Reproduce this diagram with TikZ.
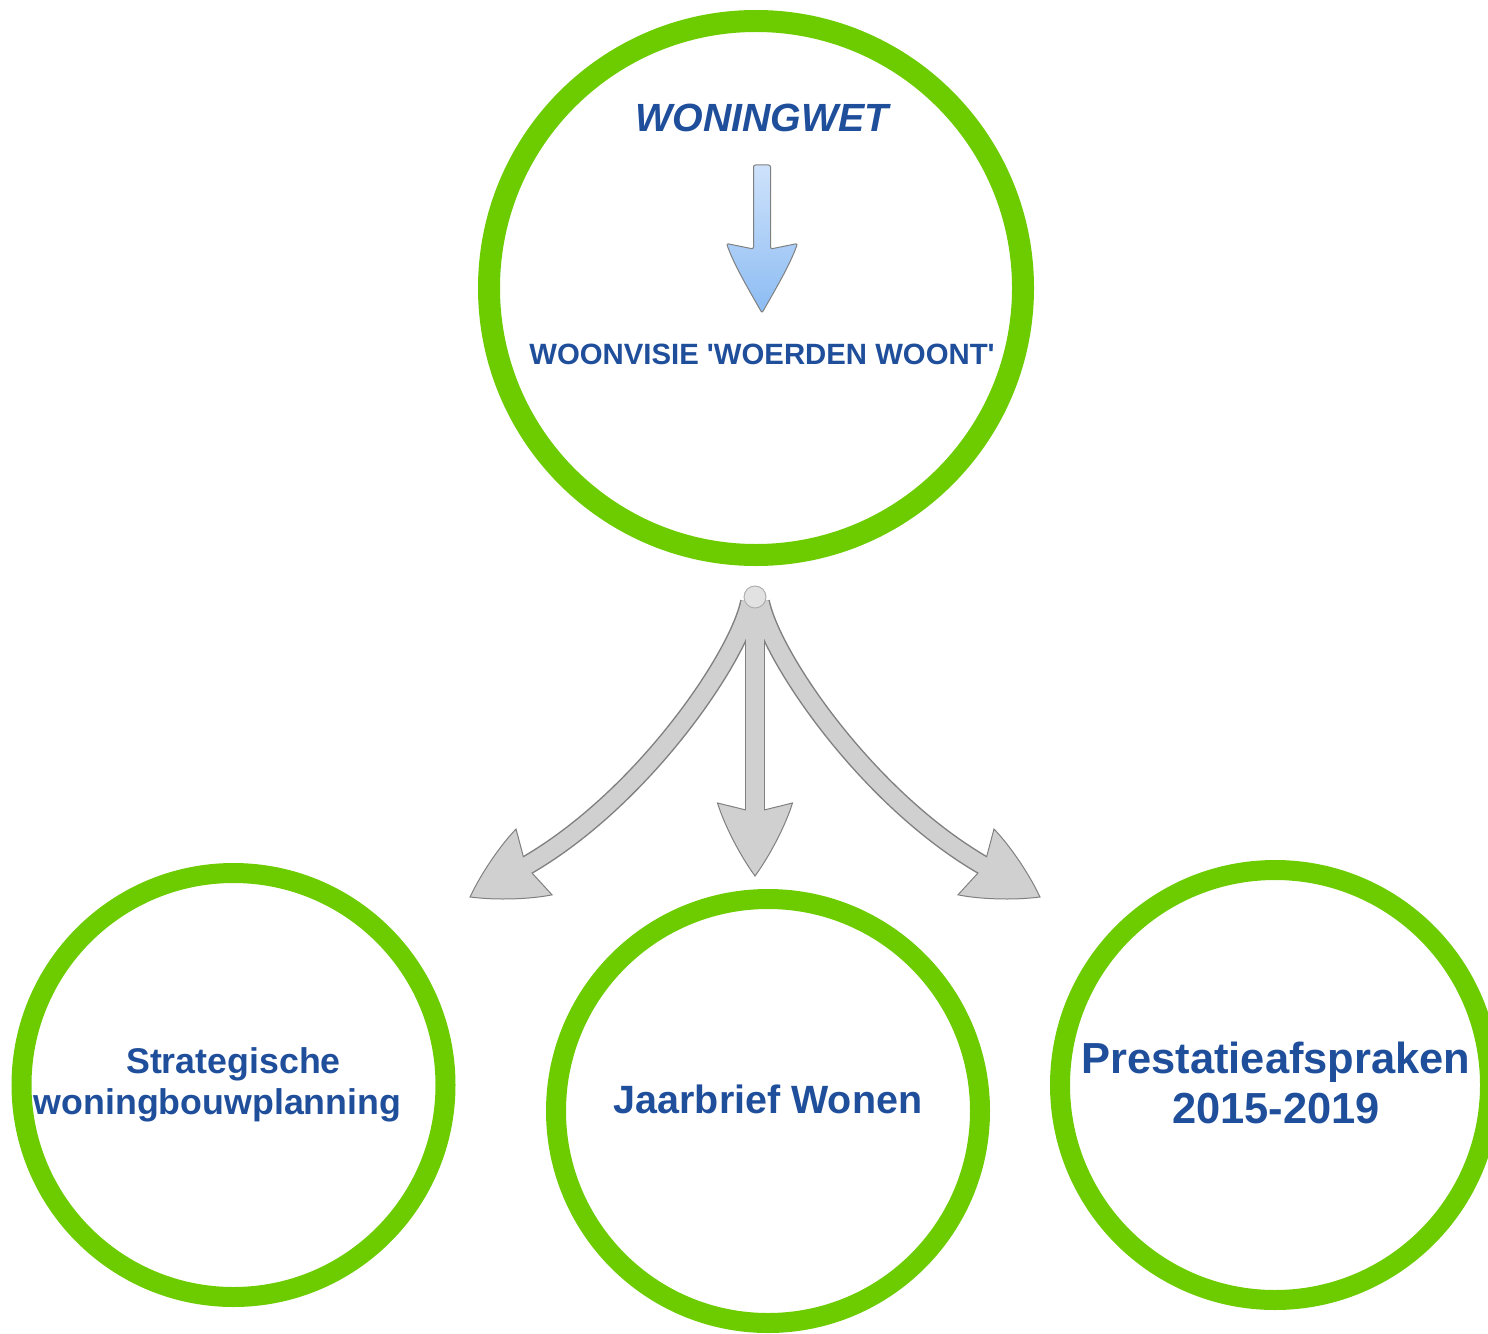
\documentclass[tikz,border=0pt]{standalone}
\usepackage{fontspec}
\setmainfont{Liberation Sans}

\definecolor{ringgreen}{RGB}{108,204,0}
\definecolor{textblue}{RGB}{31,78,155}
\definecolor{greyfill}{RGB}{208,208,208}
\definecolor{greyedge}{RGB}{128,128,128}
\definecolor{bluetop}{RGB}{206,226,251}
\definecolor{bluebottom}{RGB}{140,188,243}

\tikzset{every picture/.style={line width=0.75pt}}
\tikzset{
  ring/.style={draw=ringgreen, circle, inner sep=0pt},
  ringtext/.style={text=textblue, font=\bfseries, align=center, inner sep=0.75pt},
  shaftedge/.style={draw=greyedge, line width=15pt},
  shaftfill/.style={draw=greyfill, line width=12.8pt},
}

\begin{document}
\begin{tikzpicture}[x=0.75pt,y=0.75pt,yscale=-1,xscale=1]
\clip (0,0) rectangle (1488,1334);

%Circles
\node [ring, line width=16.5pt, minimum size=400.5pt] (wetring) at (756,288) {};
\node [ring, line width=15pt, minimum size=318pt] (planring) at (233.5,1085) {};
\node [ring, line width=15pt, minimum size=318pt] (jaarring) at (768,1111) {};
\node [ring, line width=15pt, minimum size=322.5pt] (prestring) at (1275,1085) {};

%Blue arrow
\shade [top color=bluetop, bottom color=bluebottom, draw=greyedge, rounded corners=1.5pt] (753.5,249) -- (753.5,165) -- (770.5,165) -- (770.5,249) -- (797.5,243.5) .. controls (790,265) and (775,290) .. (762,313) .. controls (749,290) and (734,265) .. (726.5,243.5) -- cycle ;

%Grey arrows, outline of the shafts
\coordinate (split) at (755,597) ;
\draw [shaftedge] (split) -- (755,815) ;
\draw [shaftedge] (750,602) .. controls (739,657) and (642,800) .. (524,867) ;
\draw [shaftedge] (760,602) .. controls (771,657) and (868,800) .. (986,867) ;
%Heads
\draw [shift={(755,876)}, rotate = 90] [fill=greyfill, draw=greyedge] (0,0) .. controls (-22,-16) and (-52,-31) .. (-73,-37.5) -- (-66,-9) -- (-66,9) -- (-73,37.5) .. controls (-52,31) and (-22,16) .. (0,0) -- cycle ;
\draw [shift={(470,897)}, rotate = 151.3] [fill=greyfill, draw=greyedge] (0,0) .. controls (-22,-16) and (-52,-31) .. (-73,-37.5) -- (-66,-9) -- (-66,9) -- (-73,37.5) .. controls (-52,31) and (-22,16) .. (0,0) -- cycle ;
\draw [shift={(1040,897)}, rotate = 28.7] [fill=greyfill, draw=greyedge] (0,0) .. controls (-22,-16) and (-52,-31) .. (-73,-37.5) -- (-66,-9) -- (-66,9) -- (-73,37.5) .. controls (-52,31) and (-22,16) .. (0,0) -- cycle ;
%Inner part of the shafts
\draw [shaftfill] (split) -- (755,815) ;
\draw [shaftfill] (750,602) .. controls (739,657) and (642,800) .. (524,867) ;
\draw [shaftfill] (760,602) .. controls (771,657) and (868,800) .. (986,867) ;
\draw [fill={rgb, 255:red, 226; green, 226; blue, 226}, draw={rgb, 255:red, 175; green, 175; blue, 175}] (split) circle [radius=11] ;

% Text Node
\node [ringtext, font=\bfseries\itshape\fontsize{29.5}{34}\selectfont] (wettext) at (762,118) {WONINGWET};
% Text Node
\node [ringtext, font=\bfseries\fontsize{22}{26}\selectfont] (visietext) at (762,354) {WOONVISIE \textquotesingle WOERDEN WOONT\textquotesingle};
% Text Node
\node [ringtext, font=\bfseries\fontsize{26.8}{30.8}\selectfont] (plantext) at (233.5,1085) {Strategische\\woningbouwplanning\hspace*{24pt}};
% Text Node
\node [ringtext, font=\bfseries\fontsize{29.6}{34}\selectfont] (jaartext) at (768,1099) {Jaarbrief Wonen};
% Text Node
\node [ringtext, font=\bfseries\fontsize{32.6}{37.5}\selectfont] (presttext) at (1276,1083) {Prestatieafspraken\\2015-2019};

\end{tikzpicture}
\end{document}
